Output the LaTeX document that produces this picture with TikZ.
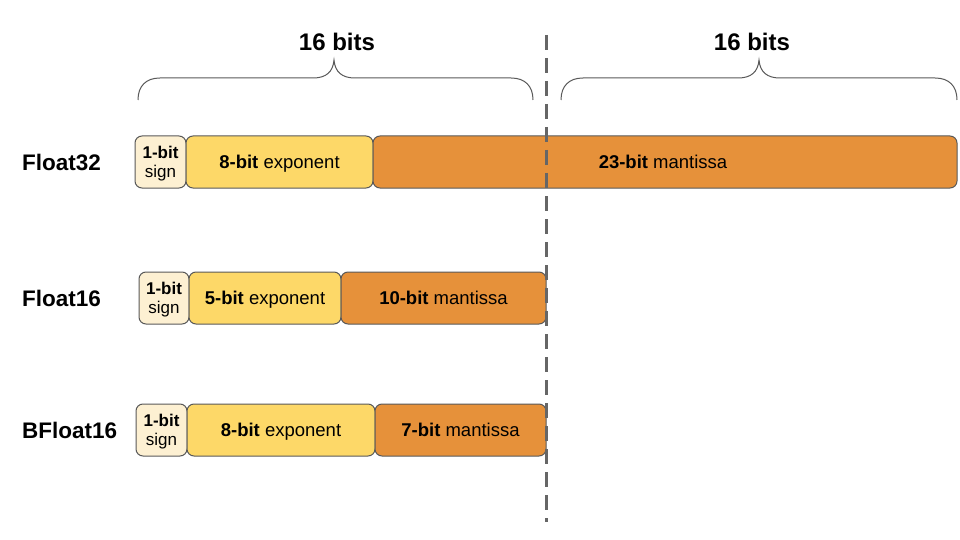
\documentclass[tikz,border=0pt]{standalone}
\usepackage{fontspec}
\setmainfont{Liberation Sans}
\definecolor{signc}{HTML}{FDF0D2}
\definecolor{expc}{HTML}{FDD868}
\definecolor{mantc}{HTML}{E6913A}
\definecolor{edgec}{HTML}{595959}
\definecolor{dashc}{HTML}{666666}
\tikzset{
  field/.style={draw=edgec, line width=1pt, rounded corners=7pt, minimum height=52pt, inner sep=0pt, outer sep=0pt, anchor=west, font=\fontsize{18.5}{21}\selectfont, align=center, text depth=0pt},
  signbox/.style={field, fill=signc, font=\fontsize{17}{19}\selectfont},
  expbox/.style={field, fill=expc},
  mantbox/.style={field, fill=mantc},
  rowlabel/.style={anchor=west, font=\bfseries\fontsize{22.5}{25}\selectfont, inner sep=0pt},
  toplabel/.style={font=\bfseries\fontsize{24}{27}\selectfont, inner sep=0pt},
  bracec/.style={draw=edgec, line width=1pt},
}
\begin{document}
\begin{tikzpicture}[x=1pt,y=-1pt]
\useasboundingbox (0,0) rectangle (960,540);
% Float32
\node[rowlabel] (l32) at (22,162) {Float32};
\node[signbox, minimum width=51pt] (s32) at (135,162) {\textbf{1-bit}\\sign};
\node[expbox, minimum width=187pt] (e32) at (186,162) {\textbf{8-bit} exponent};
\node[mantbox, minimum width=584pt] (m32) at (373,162) {};
\node[text depth=0pt] (m32t) at (663,162) {\fontsize{18.5}{21}\selectfont\textbf{23-bit} mantissa};
% Float16
\node[rowlabel] (l16) at (22,298) {Float16};
\node[signbox, minimum width=50pt] (s16) at (139,298) {\textbf{1-bit}\\sign};
\node[expbox, minimum width=152pt] (e16) at (189,298) {\textbf{5-bit} exponent};
\node[mantbox, minimum width=205pt] (m16) at (341,298) {\textbf{10-bit} mantissa};
% BFloat16
\node[rowlabel] (lb16) at (22,430) {BFloat16};
\node[signbox, minimum width=51pt] (sb16) at (136,430) {\textbf{1-bit}\\sign};
\node[expbox, minimum width=188pt] (eb16) at (187,430) {\textbf{8-bit} exponent};
\node[mantbox, minimum width=171pt] (mb16) at (375,430) {\textbf{7-bit} mantissa};
% top labels
\node[toplabel] (t1) at (337,42) {16 bits};
\node[toplabel] (t2) at (752,42) {16 bits};
% braces
\draw[bracec] (138,100) .. controls (138,86) and (146,78) .. (160,78) -- (313,78) .. controls (326,78) and (333,72) .. (334,60) .. controls (335,72) and (342,78) .. (355,78) -- (511,78) .. controls (525,78) and (533,86) .. (533,100);
\draw[bracec] (561,100) .. controls (561,86) and (569,78) .. (583,78) -- (738,78) .. controls (751,78) and (758,72) .. (759,60) .. controls (760,72) and (767,78) .. (780,78) -- (935,78) .. controls (949,78) and (957,86) .. (957,100);
% dashed divider
\coordinate (dtop) at (546,35);
\coordinate (dbot) at (546,522);
\draw[dashc, line width=3pt, dash pattern=on 15pt off 8pt] (dtop) -- (dbot);
\end{tikzpicture}
\end{document}
